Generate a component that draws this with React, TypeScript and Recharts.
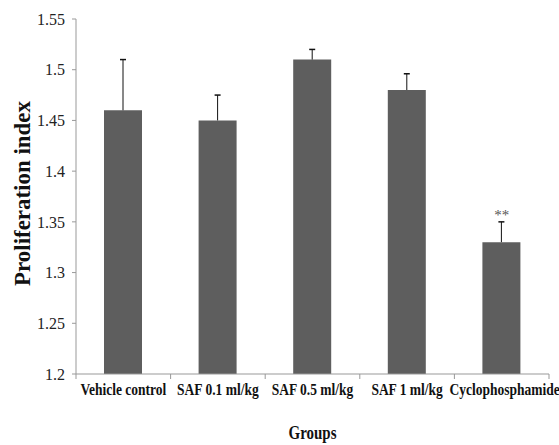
import React from "react";
import { BarChart, Bar, XAxis, YAxis, ReferenceDot } from "recharts";

const groups = [
  "Vehicle control",
  "SAF 0.1 ml/kg",
  "SAF 0.5 ml/kg",
  "SAF 1 ml/kg",
  "Cyclophosphamide",
];
const means = [1.46, 1.45, 1.51, 1.48, 1.33];
const errUp = [0.05, 0.025, 0.01, 0.016, 0.02];
const yTicks = [1.2, 1.25, 1.3, 1.35, 1.4, 1.45, 1.5, 1.55];
const marked = "Cyclophosphamide";
const markText = "**";

const data = groups.map((g, i) => ({
  group: g,
  value: means[i],
  range: [means[i], means[i] + errUp[i]],
}));

const markIdx = groups.indexOf(marked);

const serif = "'Liberation Serif', 'Times New Roman', serif";

function GroupTick(props: any) {
  const { x, y, payload } = props;
  const half = payload?.offset ?? 47.3;
  const axisY = y - 2;
  const tx = x + (payload.index === groups.length - 1 ? 3 : 0);
  return (
    <g>
      <line x1={x - half} x2={x - half} y1={axisY} y2={axisY + 5} stroke="#999" />
      {payload.index === groups.length - 1 && (
        <line x1={x + half} x2={x + half} y1={axisY} y2={axisY + 5} stroke="#999" />
      )}
      <text
        transform={`translate(${tx} ${y + 19}) scale(1 1.25)`}
        textAnchor="middle"
        fontFamily={serif}
        fontWeight="bold"
        fontSize={13.5}
        fill="#111"
      >
        {payload.value}
      </text>
    </g>
  );
}

// upper-only error whisker with a cap at the top
function Whisker(props: any) {
  const { x, y, width, height } = props;
  if (x == null || y == null) return null;
  const cx = x + width / 2;
  return (
    <g>
      <line x1={cx} x2={cx} y1={y} y2={y + height} stroke="#111" strokeWidth={1} />
      <line x1={cx - 3} x2={cx + 3} y1={y} y2={y} stroke="#111" strokeWidth={1.5} />
    </g>
  );
}

export default function App() {
  return (
    <div style={{ position: "absolute", left: 0, top: 0, background: "#fff" }}>
      <BarChart
        width={559}
        height={445}
        data={data}
        margin={{ top: 19, right: 10, bottom: 21, left: 0 }}
      >
        <XAxis
          dataKey="group"
          height={50}
          stroke="#999"
          tickLine={false}
          tickSize={0}
          interval={0}
          tick={<GroupTick />}
          label={{
            content: (p: any) => (
              <text
                transform={`translate(${p.viewBox.x + p.viewBox.width / 2} ${p.viewBox.y + 65}) scale(1 1.2)`}
                textAnchor="middle"
                fontFamily={serif}
                fontWeight="bold"
                fontSize={15}
                fill="#111"
              >
                Groups
              </text>
            ),
          }}
        />
        <XAxis xAxisId="whisker" dataKey="group" hide />
        <YAxis
          width={76}
          domain={[1.2, 1.55]}
          ticks={yTicks}
          stroke="#999"
          tickSize={4}
          tickMargin={7}
          tick={{ fontFamily: serif, fontSize: 16, fill: "#222" }}
          label={{
            content: (p: any) => {
              const cx = p.viewBox.x + 23;
              const cy = p.viewBox.y + p.viewBox.height / 2 - 3;
              return (
                <text
                  transform={`translate(${cx} ${cy}) rotate(-90) scale(1 1.15)`}
                  textAnchor="middle"
                  dominantBaseline="central"
                  fontFamily={serif}
                  fontWeight="bold"
                  fontSize={20}
                  textLength={185}
                  lengthAdjust="spacingAndGlyphs"
                  fill="#111"
                >
                  Proliferation index
                </text>
              );
            },
          }}
        />
        <Bar dataKey="value" fill="#5e5e5e" barSize={38} isAnimationActive={false} />
        <Bar
          dataKey="range"
          xAxisId="whisker"
          barSize={38}
          shape={<Whisker />}
          isAnimationActive={false}
        />
        <ReferenceDot
          x={marked}
          y={means[markIdx] + errUp[markIdx]}
          r={0}
          stroke="none"
          fill="none"
          label={{
            content: (p: any) => (
              <text
                x={p.viewBox.x + (p.viewBox.width || 0) / 2}
                y={p.viewBox.y - 2}
                textAnchor="middle"
                fontFamily={serif}
                fontSize={15}
                fill="#555"
              >
                {markText}
              </text>
            ),
          }}
        />
      </BarChart>
    </div>
  );
}
